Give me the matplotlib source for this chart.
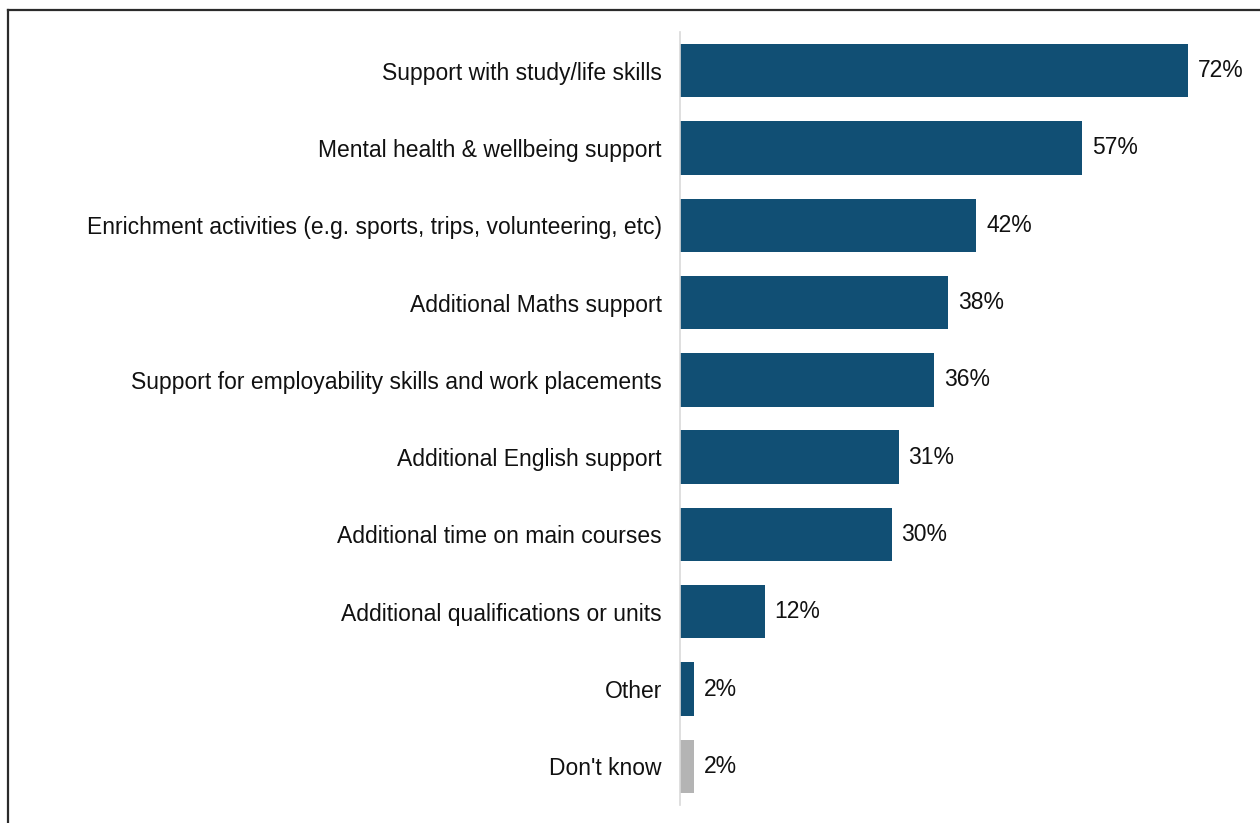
import matplotlib.pyplot as plt
from matplotlib.lines import Line2D

plt.rcParams['font.family'] = ['Liberation Sans', 'DejaVu Sans']

categories = [
    "Support with study/life skills",
    "Mental health & wellbeing support",
    "Enrichment activities (e.g. sports, trips, volunteering, etc)",
    "Additional Maths support",
    "Support for employability skills and work placements",
    "Additional English support",
    "Additional time on main courses",
    "Additional qualifications or units",
    "Other",
    "Don't know",
]
values = [72, 57, 42, 38, 36, 31, 30, 12, 2, 2]
bar_colors = ["#114f74"] * 9 + ["#b4b4b4"]

W, H = 1260, 823
fig = plt.figure(figsize=(W / 100, H / 100), dpi=100)
ax = fig.add_axes([680 / W, 18 / H, 1 - 680 / W, (805 - 32) / H])

y = list(range(len(categories)))
ax.barh(y, values, height=0.69, color=bar_colors)
for yi, v in zip(y, values):
    ax.annotate(f"{v}%", (v, yi), xytext=(7, 0), textcoords="offset points",
                ha="left", va="center", fontsize=16.5, color="#111111")

ax.set_ylim(len(categories) - 0.5, -0.5)
ax.set_xlim(0, 82.2)
ax.set_yticks(y)
ax.set_yticklabels(categories, fontsize=16.5, color="#111111")
ax.tick_params(axis="y", length=0, pad=13)
ax.set_xticks([])
for side in ["top", "right", "bottom"]:
    ax.spines[side].set_visible(False)
ax.spines["left"].set_color("#d9d9d9")
ax.spines["left"].set_linewidth(1.2)

# outer frame: top and left edges only
fig.add_artist(Line2D([8 / W, 1], [1 - 10 / H, 1 - 10 / H], color="#2b2b2b", lw=1.6,
                      transform=fig.transFigure))
fig.add_artist(Line2D([8 / W, 8 / W], [0, 1 - 10 / H], color="#2b2b2b", lw=1.6,
                      transform=fig.transFigure))

fig.savefig("out.png", dpi=100)
